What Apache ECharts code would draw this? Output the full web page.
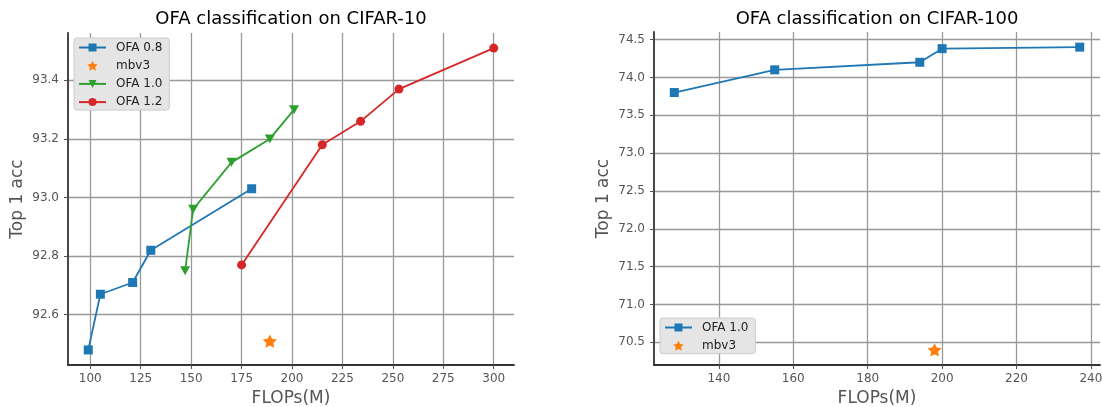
<!DOCTYPE html>
<html>
<head>
<meta charset="utf-8">
<script src="https://cdn.jsdelivr.net/npm/echarts@6/dist/echarts.min.js"></script>
<style>
html,body{margin:0;padding:0;background:#fff;}
#c{width:1102px;height:407px;}
</style>
</head>
<body>
<div id="c"></div>
<script>
// ---- CIFAR-10 panel data ----
const c10_ofa08_flops = [99, 105, 121, 130, 180];
const c10_ofa08_acc   = [92.48, 92.67, 92.71, 92.82, 93.03];
const c10_mbv3_flops  = [189];
const c10_mbv3_acc    = [92.51];
const c10_ofa10_flops = [147, 151, 170, 189, 201];
const c10_ofa10_acc   = [92.75, 92.96, 93.12, 93.20, 93.30];
const c10_ofa12_flops = [175, 215, 234, 253, 300];
const c10_ofa12_acc   = [92.77, 93.18, 93.26, 93.37, 93.51];
const c10_xticks = [100, 125, 150, 175, 200, 225, 250, 275, 300];
const c10_yticks = [92.6, 92.8, 93.0, 93.2, 93.4];

// ---- CIFAR-100 panel data ----
const c100_ofa10_flops = [128, 155, 194, 200, 237];
const c100_ofa10_acc   = [73.80, 74.10, 74.20, 74.38, 74.40];
const c100_mbv3_flops  = [198];
const c100_mbv3_acc    = [70.40];
const c100_xticks = [140, 160, 180, 200, 220, 240];
const c100_yticks = [70.5, 71.0, 71.5, 72.0, 72.5, 73.0, 73.5, 74.0, 74.5];

const titles = ['OFA classification on CIFAR-10', 'OFA classification on CIFAR-100'];
const xName = 'FLOPs(M)';
const yName = 'Top 1 acc';

function pairs(xs, ys){ return xs.map((x,i)=>[x, ys[i]]); }
// matplotlib-style 5% autoscale margins
function padExtent(arrs){
  const all = [].concat(...arrs);
  const mn = Math.min(...all), mx = Math.max(...all), m = (mx-mn)*0.05;
  return [mn-m, mx+m];
}

const BLUE='#1f77b4', ORANGE='#ff7f0e', GREEN='#2ca02c', RED='#d62728';
const FONT='DejaVu Sans';
const STAR='path://M0,-10 L2.94,-4.05 L9.51,-3.09 L4.76,1.55 L5.88,8.09 L0,5 L-5.88,8.09 L-4.76,1.55 L-9.51,-3.09 L-2.94,-4.05 Z';
const TRI_DOWN='path://M0,0 L10,0 L5,9 Z';

const x0 = padExtent([c10_ofa08_flops, c10_mbv3_flops, c10_ofa10_flops, c10_ofa12_flops]);
const y0 = padExtent([c10_ofa08_acc, c10_mbv3_acc, c10_ofa10_acc, c10_ofa12_acc]);
const x1 = padExtent([c100_ofa10_flops, c100_mbv3_flops]);
const y1 = padExtent([c100_ofa10_acc, c100_mbv3_acc]);

function xAxis(idx, ext, ticks){
  return {
    type:'value', gridIndex: idx, min: ext[0], max: ext[1],
    name: xName, nameLocation:'middle', nameGap: 25,
    nameTextStyle:{fontFamily:FONT, fontSize:17, color:'#555'},
    axisLine:{show:true, onZero:false, lineStyle:{color:'#333', width:1.8}},
    axisTick:{show:true, length:4, customValues: ticks, lineStyle:{color:'#555', width:1}},
    axisLabel:{customValues: ticks, margin:8, fontFamily:FONT, fontSize:12, color:'#555'},
    splitLine:{show:true, lineStyle:{color:'#999', width:1.3}}
  };
}
function yAxis(idx, ext, ticks){
  return {
    type:'value', gridIndex: idx, min: ext[0], max: ext[1],
    name: yName, nameLocation:'middle', nameGap: 42,
    nameTextStyle:{fontFamily:FONT, fontSize:17, color:'#555'},
    axisLine:{show:true, onZero:false, lineStyle:{color:'#333', width:1.8}},
    axisTick:{show:true, length:4, customValues: ticks, lineStyle:{color:'#555', width:1}},
    axisLabel:{customValues: ticks, margin:9, fontFamily:FONT, fontSize:12, color:'#555',
      formatter: v => Number(v).toFixed(1)},
    splitLine:{show:true, lineStyle:{color:'#999', width:1.3}}
  };
}
function legend(items, left, top){
  return {
    data: items, orient:'vertical', left:left, top:top,
    itemWidth:27, itemHeight:10, itemGap:6.2,
    padding:[3.5, 7, 2, 4],
    backgroundColor:'#e5e5e5', borderColor:'#cccccc', borderWidth:1, borderRadius:3,
    selectedMode:false,
    formatter: n => n.split('|')[0],
    textStyle:{fontFamily:FONT, fontSize:12, color:'#222', padding:[0,0,0,5]}
  };
}
function lineSeries(name, xi, xs, ys, color, symbol, size){
  return {
    type:'line', name:name, xAxisIndex:xi, yAxisIndex:xi,
    data: pairs(xs, ys), symbol:symbol, symbolSize:size, showAllSymbol:true,
    lineStyle:{color:color, width:1.8}, itemStyle:{color:color, opacity:1},
    emphasis:{disabled:true}
  };
}
function starSeries(name, xi, xs, ys){
  return {
    type:'scatter', name:name, xAxisIndex:xi, yAxisIndex:xi,
    data: pairs(xs, ys), symbol:STAR, symbolSize:14, symbolKeepAspect:true,
    itemStyle:{color:ORANGE, opacity:1}, emphasis:{disabled:true}
  };
}

const chart = echarts.init(document.getElementById('c'), null, {renderer:'canvas'});
chart.setOption({
  animation:false,
  backgroundColor:'#ffffff',
  title:[
    {text:titles[0], left:291, top:10, textAlign:'center', padding:0,
     textStyle:{fontFamily:FONT, fontSize:18, fontWeight:'normal', color:'#000'}},
    {text:titles[1], left:877, top:10, textAlign:'center', padding:0,
     textStyle:{fontFamily:FONT, fontSize:18, fontWeight:'normal', color:'#000'}}
  ],
  legend:[
    legend(['OFA 0.8|c10','mbv3|c10','OFA 1.0|c10','OFA 1.2|c10'], 74, 38),
    legend(['OFA 1.0|c100','mbv3|c100'], 660, 318)
  ],
  grid:[
    {left:68, top:33, width:446, height:332, containLabel:false, outerBoundsMode:'none'},
    {left:654, top:32, width:446, height:333, containLabel:false, outerBoundsMode:'none'}
  ],
  xAxis:[xAxis(0, x0, c10_xticks), xAxis(1, x1, c100_xticks)],
  yAxis:[yAxis(0, y0, c10_yticks), yAxis(1, y1, c100_yticks)],
  series:[
    lineSeries('OFA 0.8|c10', 0, c10_ofa08_flops, c10_ofa08_acc, BLUE, 'rect', 9),
    starSeries('mbv3|c10', 0, c10_mbv3_flops, c10_mbv3_acc),
    lineSeries('OFA 1.0|c10', 0, c10_ofa10_flops, c10_ofa10_acc, GREEN, TRI_DOWN, [10,9]),
    lineSeries('OFA 1.2|c10', 0, c10_ofa12_flops, c10_ofa12_acc, RED, 'circle', 9),
    lineSeries('OFA 1.0|c100', 1, c100_ofa10_flops, c100_ofa10_acc, BLUE, 'rect', 9),
    starSeries('mbv3|c100', 1, c100_mbv3_flops, c100_mbv3_acc)
  ]
});
</script>
</body>
</html>
